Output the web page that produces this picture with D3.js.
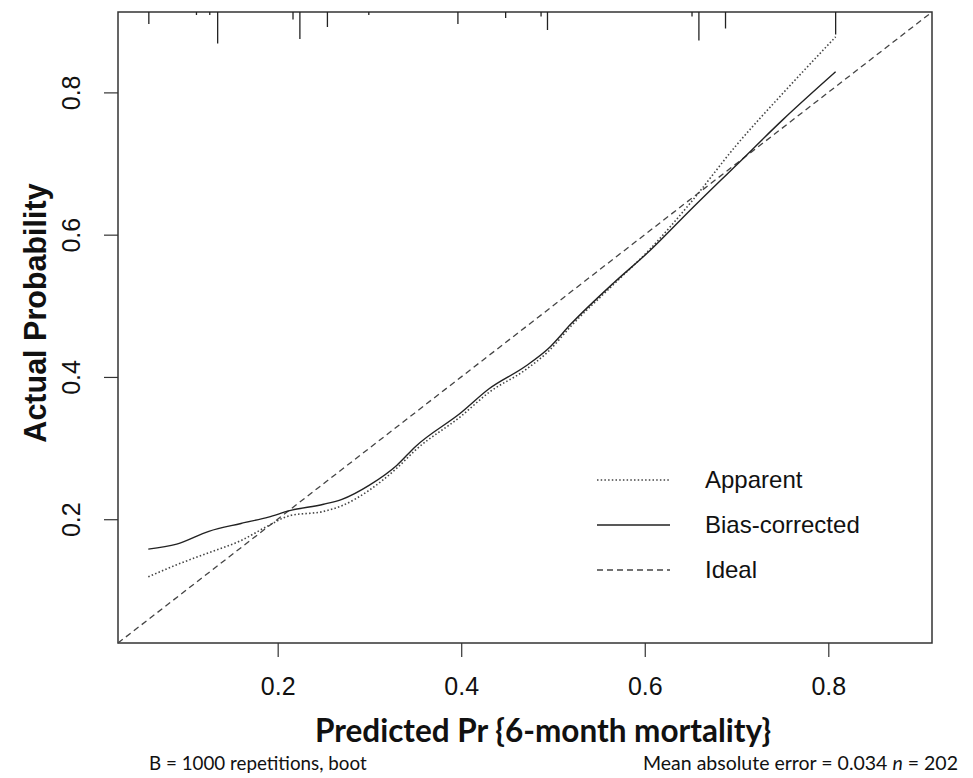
<!DOCTYPE html>
<html>
<head>
<meta charset="utf-8">
<script src="https://cdn.jsdelivr.net/npm/d3@7"></script>
<style>
  body { margin: 0; background: #fff; }
  svg { display: block; }
</style>
</head>
<body>
<div id="chartContainer"></div>
<script>
const W = 973, H = 778;
const margins = { top: 12, left: 118, bottom: 135, right: 41 };
const innerWidth = W - margins.left - margins.right;
const innerHeight = H - margins.top - margins.bottom;

// axis limits (same on both axes, the ideal line runs corner to corner)
const axisLimits = [0.026, 0.913];
const xTicks = [0.2, 0.4, 0.6, 0.8];
const yTicks = [0.2, 0.4, 0.6, 0.8];

// calibration curves
const predicted     = [0.059, 0.09, 0.125, 0.16, 0.19, 0.213, 0.25, 0.27, 0.30, 0.33, 0.35, 0.40, 0.43, 0.47, 0.495, 0.52, 0.566, 0.606, 0.65, 0.70, 0.75, 0.808];
const apparent      = [0.119, 0.136, 0.153, 0.170, 0.191, 0.205, 0.211, 0.219, 0.241, 0.272, 0.297, 0.345, 0.378, 0.410, 0.436, 0.472, 0.530, 0.580, 0.645, 0.726, 0.798, 0.878];
const biasCorrected = [0.158, 0.165, 0.183, 0.194, 0.203, 0.212, 0.221, 0.228, 0.248, 0.276, 0.302, 0.350, 0.383, 0.415, 0.440, 0.475, 0.532, 0.578, 0.635, 0.698, 0.761, 0.829];

// distribution of predicted values (spikes along the top)
const rugPredicted = [0.0596, 0.1115, 0.126, 0.1346, 0.2167, 0.2242, 0.2542, 0.2993, 0.3964, 0.4484, 0.487, 0.494, 0.6515, 0.659, 0.688, 0.808];
const rugCounts    = [8, 2, 2, 21, 5, 18, 10, 2, 8, 4, 3, 12, 3, 19, 11, 15];

const legendLabels = ["Apparent", "Bias-corrected", "Ideal"];
const legendDash = ["1.5,2.2", null, "6,4"];

const xTitle = "Predicted Pr {6-month mortality}";
const yTitle = "Actual Probability";
const noteLeft = "B = 1000 repetitions, boot";

const ink = "#333";
const tickFont = "'Liberation Sans', Arial, sans-serif";

const svg = d3.select("#chartContainer")
  .append("svg")
  .attr("width", W)
  .attr("height", H);

const g = svg.append("g")
  .attr("transform", `translate(${margins.left}, ${margins.top})`);

const xScale = d3.scaleLinear().domain(axisLimits).range([0, innerWidth]);
const yScale = d3.scaleLinear().domain(axisLimits).range([innerHeight, 0]);
const rugScale = d3.scaleLinear().domain([0, 21]).range([0, 31.5]);

// x axis
const xAxis = g.append("g")
  .attr("transform", `translate(0, ${innerHeight})`)
  .call(d3.axisBottom(xScale).tickValues(xTicks).tickSize(14).tickPadding(20).tickFormat(d3.format(".1f")))
  .attr("font-size", 25)
  .attr("font-family", tickFont);
xAxis.select(".domain").remove();
xAxis.selectAll("line").attr("stroke", ink).attr("stroke-width", 1.2);
xAxis.selectAll("text").attr("fill", "#111");

// y axis, labels parallel to the axis
const yAxis = g.append("g")
  .call(d3.axisLeft(yScale).tickValues(yTicks).tickSize(14).tickFormat(d3.format(".1f")))
  .attr("font-size", 25)
  .attr("font-family", tickFont);
yAxis.select(".domain").remove();
yAxis.selectAll("line").attr("stroke", ink).attr("stroke-width", 1.2);
yAxis.selectAll("text")
  .attr("x", null)
  .attr("dy", null)
  .attr("text-anchor", "middle")
  .attr("transform", "translate(-38,0) rotate(-90)")
  .attr("fill", "#111");

// box
g.append("rect")
  .attr("x", 0).attr("y", 0)
  .attr("width", innerWidth).attr("height", innerHeight)
  .attr("fill", "none")
  .attr("stroke", ink)
  .attr("stroke-width", 1.5);

// rug spikes hanging from the top
g.selectAll(".rug")
  .data(rugPredicted)
  .enter()
  .append("line")
  .attr("class", "rug")
  .attr("x1", d => xScale(d))
  .attr("x2", d => xScale(d))
  .attr("y1", 0)
  .attr("y2", (d, i) => rugScale(rugCounts[i]))
  .attr("stroke", "#222")
  .attr("stroke-width", 1.3);

const line = d3.line()
  .x(d => xScale(d[0]))
  .y(d => yScale(d[1]));

// ideal
g.append("path")
  .datum([[axisLimits[0], axisLimits[0]], [axisLimits[1], axisLimits[1]]])
  .attr("d", line)
  .attr("fill", "none")
  .attr("stroke", "#444")
  .attr("stroke-width", 1.3)
  .attr("stroke-dasharray", legendDash[2]);

// apparent
g.append("path")
  .datum(predicted.map((p, i) => [p, apparent[i]]))
  .attr("d", line.curve(d3.curveMonotoneX))
  .attr("fill", "none")
  .attr("stroke", "#444")
  .attr("stroke-width", 1.6)
  .attr("stroke-dasharray", legendDash[0]);

// bias-corrected
g.append("path")
  .datum(predicted.map((p, i) => [p, biasCorrected[i]]))
  .attr("d", line.curve(d3.curveMonotoneX))
  .attr("fill", "none")
  .attr("stroke", "#222")
  .attr("stroke-width", 1.4);

// legend
const legend = svg.append("g").attr("transform", "translate(597, 480)");
const items = legend.selectAll("g")
  .data(legendLabels)
  .enter()
  .append("g")
  .attr("transform", (d, i) => `translate(0, ${i * 45})`);
items.append("line")
  .attr("x1", 0).attr("x2", 73)
  .attr("stroke", (d, i) => i == 1 ? "#222" : "#444")
  .attr("stroke-width", (d, i) => i == 0 ? 1.6 : 1.3)
  .attr("stroke-dasharray", (d, i) => legendDash[i]);
items.append("text")
  .attr("x", 108)
  .attr("dy", "0.35em")
  .attr("font-size", 24)
  .attr("font-family", tickFont)
  .attr("fill", "#111")
  .text(d => d);

// axis titles
svg.append("text")
  .attr("transform", "translate(46, 313) rotate(-90)")
  .attr("text-anchor", "middle")
  .attr("font-size", 30.5)
  .attr("font-weight", "bold")
  .attr("font-family", tickFont)
  .attr("fill", "#111")
  .text(yTitle);

svg.append("text")
  .attr("x", 543)
  .attr("y", 742)
  .attr("text-anchor", "middle")
  .attr("font-size", 31.5)
  .attr("font-weight", "bold")
  .attr("font-family", "Lato, 'Open Sans', sans-serif")
  .attr("fill", "#111")
  .text(xTitle);

// notes under the chart
svg.append("text")
  .attr("x", 149)
  .attr("y", 770)
  .attr("font-size", 18.8)
  .attr("font-family", "Lato, 'Open Sans', sans-serif")
  .attr("fill", "#111")
  .text(noteLeft);

const noteRight = svg.append("text")
  .attr("x", 958)
  .attr("y", 770)
  .attr("text-anchor", "end")
  .attr("font-size", 19.5)
  .attr("font-family", "Lato, 'Open Sans', sans-serif")
  .attr("fill", "#111");
noteRight.append("tspan").text("Mean absolute error = 0.034 ");
noteRight.append("tspan").attr("font-style", "italic").text("n");
noteRight.append("tspan").text(" = 202");
</script>
</body>
</html>
